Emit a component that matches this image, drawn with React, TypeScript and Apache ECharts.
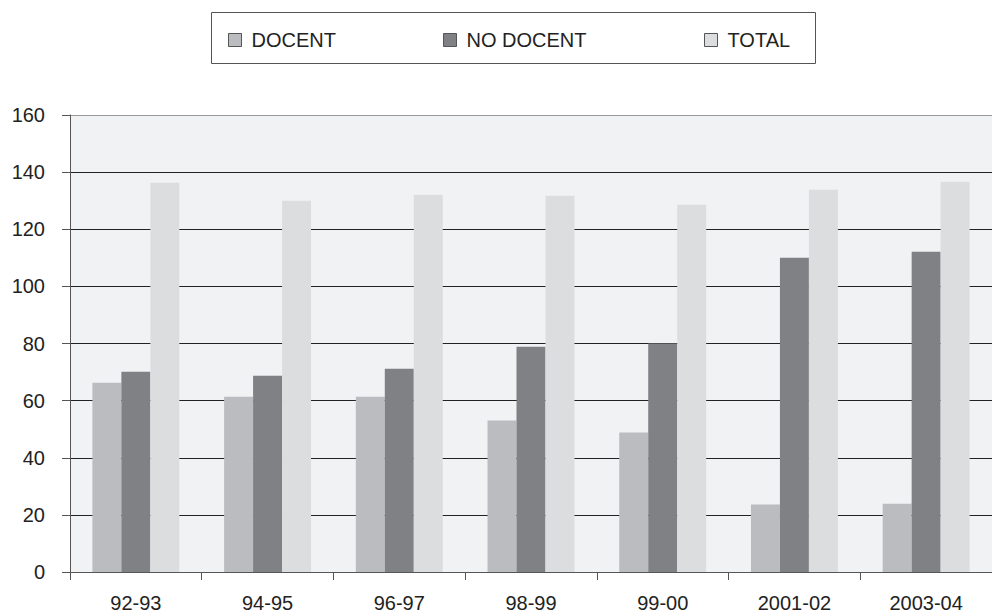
import React, { useEffect, useRef } from "react";
import * as echarts from "echarts";

const categories = ["92-93", "94-95", "96-97", "98-99", "99-00", "2001-02", "2003-04"];
const docent = [66.3, 61.4, 61.4, 53.0, 48.8, 23.6, 23.9];
const noDocent = [70.1, 68.7, 71.2, 78.9, 80.0, 110.0, 112.1];
const total = [136.3, 130.0, 132.1, 131.7, 128.6, 133.8, 136.6];
const seriesNames = ["DOCENT", "NO DOCENT", "TOTAL"];
const seriesColors = ["#bbbcc0", "#808185", "#dcdddf"];
const yTicks = [0, 20, 40, 60, 80, 100, 120, 140, 160];

const FONT = "'Liberation Sans', Arial, Helvetica, sans-serif";

export default function App() {
  const ref = useRef<HTMLDivElement>(null);
  useEffect(() => {
    document.body.style.margin = "0";
    const chart = echarts.init(ref.current!, null, { renderer: "svg" });
    const values = [docent, noDocent, total];
    const legendLefts = [228, 443, 704];
    chart.setOption({
      animation: false,
      backgroundColor: "#ffffff",
      textStyle: { fontFamily: FONT },
      graphic: [
        {
          type: "rect",
          shape: { x: 211.5, y: 12.5, width: 604, height: 51 },
          style: { fill: "none", stroke: "#555", lineWidth: 1 },
          z: 0,
        },
      ],
      legend: seriesNames.map((n, i) => ({
        data: [n],
        left: legendLefts[i],
        top: 30,
        padding: 0,
        icon: "rect",
        itemWidth: 13,
        itemHeight: 13,
        itemStyle: { borderColor: "#555", borderWidth: 1 },
        textStyle: { fontSize: 20, color: "#222", fontFamily: FONT, padding: [0, 0, 0, 5] },
        selectedMode: false,
      })),
      grid: {
        left: 70,
        top: 115,
        bottom: 41,
        right: -10.5,
        show: true,
        backgroundColor: "#f1f2f4",
        borderWidth: 0,
      },
      xAxis: {
        type: "category",
        data: categories,
        axisLine: { lineStyle: { color: "#555", width: 1 } },
        axisTick: { show: true, length: 8, lineStyle: { color: "#555" } },
        axisLabel: { fontSize: 20, color: "#222", margin: 21, fontFamily: FONT },
      },
      yAxis: {
        type: "value",
        min: 0,
        max: 160,
        interval: 20,
        axisLine: { show: true, lineStyle: { color: "#555", width: 1 } },
        axisTick: { show: true, length: 8, lineStyle: { color: "#555" } },
        axisLabel: {
          fontSize: 20,
          color: "#222",
          margin: 25,
          fontFamily: FONT,
          formatter: (v: number) => (yTicks.includes(v) ? String(v) : ""),
        },
        splitLine: {
          show: true,
          lineStyle: {
            color: ["#555", "#222", "#222", "#222", "#222", "#222", "#222", "#222", "#999"],
            width: 1,
          },
        },
      },
      series: seriesNames.map((n, i) => ({
        name: n,
        type: "bar",
        data: values[i],
        barGap: "0%",
        barCategoryGap: "34%",
        itemStyle: { color: seriesColors[i] },
      })),
    });
    return () => chart.dispose();
  }, []);
  return (
    <div
      ref={ref}
      style={{ position: "absolute", left: 0, top: 0, width: 992, height: 613 }}
    />
  );
}
